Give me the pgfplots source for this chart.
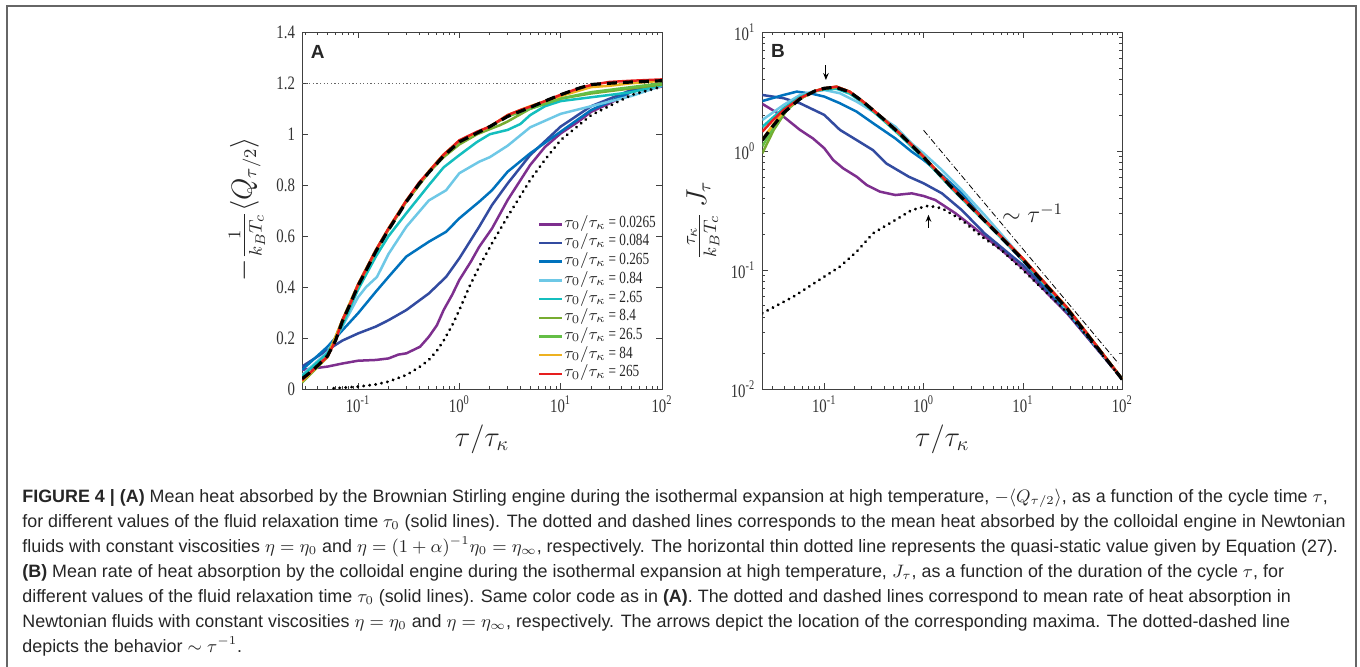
\documentclass[border=0pt]{standalone}
\usepackage{fontspec}
\setmainfont{Liberation Sans}
\newfontfamily\tms[FakeStretch=0.78]{Liberation Serif}
\usepackage{pgfplots}
\pgfplotsset{compat=1.18}
\usetikzlibrary{arrows.meta}

\definecolor{cPur}{RGB}{126,47,142}
\definecolor{cDbl}{RGB}{50,75,160}
\definecolor{cBlu}{RGB}{0,114,189}
\definecolor{cLbl}{RGB}{110,200,230}
\definecolor{cTeal}{RGB}{20,190,190}
\definecolor{cGrn}{RGB}{119,172,48}
\definecolor{cLgr}{RGB}{100,190,70}
\definecolor{cOra}{RGB}{237,177,32}
\definecolor{cRed}{RGB}{230,30,30}

\pgfplotsset{
  mstyle/.style={
    scale only axis, width=180pt, height=178.35pt,
    xmax=100,
    axis line style={black!75, line width=0.45pt},
    every tick/.style={black!75, line width=0.4pt},
    tick align=inside, major tick length=2.8pt, minor tick length=1.5pt,
    xtick pos=both, ytick pos=both,
    xticklabel pos=left, yticklabel pos=left,
    tick label style={font=\tms\fontsize{9.5}{11}\selectfont, text=black!80},
    log number format basis/.code 2 args={##1\textsuperscript{\pgfmathparse{int(##2)}\pgfmathresult}},
    xlabel style={font=\fontsize{14}{16}\selectfont, text=black!85},
    ylabel style={font=\fontsize{13.5}{15}\selectfont, text=black!85},
  },
}
\tikzset{
  dotline/.style={black, line width=1.6pt, line cap=round, dash pattern=on 0.01pt off 3pt},
  dashline/.style={black, line width=1.6pt, dash pattern=on 5pt off 3pt},
  cl/.style={#1, line width=1.25pt},
}
\newcommand{\legtxt}[1]{$\tau_0/\tau_\kappa$\,{\tms\fontsize{8.5}{9}\selectfont = #1}}

\begin{document}
\begin{tikzpicture}
\useasboundingbox (0,0) rectangle (680pt,333pt);
\draw[black!60, line width=1pt] (3.5pt,-1pt) -- (3.5pt,330pt) -- (677.85pt,330pt) -- (677.85pt,-1pt);

% ---------------- panel A ----------------
\begin{axis}[mstyle, xmode=log, at={(151pt,138.5pt)}, anchor=south west,
  xmin=0.028, ymin=0, ymax=1.4,
  ytick={0,0.2,0.4,0.6,0.8,1,1.2,1.4},
  yticklabels={0,0.2,0.4,0.6,0.8,1,1.2,1.4},
  xlabel={$\tau/\tau_\kappa$},
  xlabel style={at={(axis description cs:0.5,-0.14)}, anchor=center},
  ylabel={$-\frac{1}{k_BT_c}\big\langle Q_{\tau/2}\big\rangle$},
  ylabel style={at={(axis description cs:-0.153,0.504)}, anchor=center},
  legend style={draw=none, fill=none, at={(axis description cs:0.655,0.487)}, anchor=north west,
    inner sep=0pt, row sep=0.75pt, font=\fontsize{8}{9}\selectfont, text=black!85,
    nodes={inner sep=0.3pt, text height=5.5pt, text depth=2.5pt}},
  legend cell align=left,
  legend image code/.code={\draw[#1] (0pt,0pt) -- (11.5pt,0pt);},
]
\addplot[forget plot, black!60, line width=0.4pt, dash pattern=on 0.6pt off 1.2pt] coordinates {(0.028,1.2) (100,1.2)};

\addplot[cl=cPur] coordinates {(0.028,0.075) (0.05,0.088) (0.07,0.1) (0.1,0.111) (0.15,0.114) (0.2,0.12) (0.25,0.135) (0.3,0.14) (0.41,0.166) (0.5,0.205) (0.6,0.25) (0.7,0.31) (0.85,0.37) (1,0.428) (1.3,0.5) (1.57,0.558) (2.1,0.63) (3,0.742) (5,0.879) (7,0.95) (10,1.003) (15,1.05) (20,1.088) (30,1.12) (50,1.167) (100,1.187)};
\addlegendentry{\legtxt{0.0265}}
\addplot[cl=cDbl] coordinates {(0.028,0.088) (0.05,0.153) (0.07,0.19) (0.1,0.218) (0.15,0.245) (0.2,0.27) (0.3,0.31) (0.5,0.375) (0.74,0.44) (1,0.513) (1.57,0.637) (2.1,0.722) (3,0.807) (5,0.918) (10,1.03) (20,1.11) (50,1.174) (100,1.19)};
\addlegendentry{\legtxt{0.084}}
\addplot[cl=cBlu] coordinates {(0.028,0.075) (0.05,0.166) (0.07,0.23) (0.1,0.297) (0.15,0.382) (0.2,0.44) (0.3,0.52) (0.5,0.578) (0.74,0.617) (1,0.67) (1.57,0.735) (2.1,0.78) (3,0.853) (5,0.925) (10,1.01) (20,1.095) (50,1.167) (100,1.19)};
\addlegendentry{\legtxt{0.265}}
\addplot[cl=cLbl] coordinates {(0.028,0.055) (0.05,0.145) (0.07,0.245) (0.1,0.36) (0.12,0.4) (0.154,0.44) (0.2,0.53) (0.3,0.637) (0.5,0.74) (0.74,0.78) (1,0.847) (1.57,0.892) (2,0.91) (3,0.955) (5,1.027) (7.7,1.06) (10,1.08) (20,1.11) (50,1.15) (100,1.19)};
\addlegendentry{\legtxt{0.84}}
\addplot[cl=cTeal] coordinates {(0.028,0.05) (0.05,0.14) (0.07,0.25) (0.1,0.39) (0.15,0.52) (0.2,0.6) (0.3,0.69) (0.5,0.8) (0.7,0.87) (1,0.918) (1.5,0.97) (2,1.0) (3,1.017) (4,1.04) (5,1.075) (7,1.11) (10,1.13) (20,1.145) (50,1.165) (100,1.193)};
\addlegendentry{\legtxt{2.65}}
\addplot[cl=cGrn] coordinates {(0.028,0.025) (0.05,0.125) (0.07,0.265) (0.1,0.405) (0.15,0.54) (0.2,0.625) (0.3,0.735) (0.5,0.85) (0.7,0.91) (1,0.96) (1.5,1.0) (2,1.02) (2.5,1.035) (3,1.05) (5,1.1) (10,1.14) (20,1.16) (50,1.18) (100,1.195)};
\addlegendentry{\legtxt{8.4}}
\addplot[cl=cLgr] coordinates {(0.028,0.03) (0.05,0.127) (0.07,0.27) (0.1,0.41) (0.15,0.545) (0.2,0.63) (0.3,0.74) (0.5,0.853) (0.7,0.92) (1,0.97) (2,1.03) (3,1.07) (5,1.1) (10,1.14) (20,1.165) (50,1.185) (100,1.2)};
\addlegendentry{\legtxt{26.5}}
\addplot[cl=cOra] coordinates {(0.028,0.03) (0.05,0.127) (0.07,0.27) (0.1,0.41) (0.15,0.545) (0.2,0.63) (0.3,0.74) (0.5,0.855) (0.7,0.92) (1,0.975) (2,1.03) (3,1.075) (5,1.11) (10,1.15) (20,1.185) (30,1.19) (50,1.2) (100,1.21)};
\addlegendentry{\legtxt{84}}
\addplot[cl=cRed] coordinates {(0.028,0.035) (0.035,0.07) (0.042,0.1) (0.05,0.127) (0.06,0.19) (0.07,0.27) (0.085,0.34) (0.1,0.41) (0.12,0.47) (0.15,0.545) (0.2,0.63) (0.25,0.69) (0.3,0.74) (0.4,0.81) (0.5,0.853) (0.6,0.89) (0.7,0.92) (0.85,0.95) (1,0.976) (1.5,1.01) (2,1.03) (3,1.075) (4,1.095) (5,1.108) (7,1.13) (10,1.155) (15,1.18) (20,1.193) (30,1.205) (50,1.21) (100,1.215)};
\addlegendentry{\legtxt{265}}

\addplot[forget plot, dashline] coordinates {(0.028,0.04) (0.035,0.07) (0.042,0.1) (0.05,0.13) (0.06,0.19) (0.07,0.265) (0.085,0.34) (0.1,0.405) (0.12,0.465) (0.15,0.54) (0.2,0.625) (0.25,0.685) (0.3,0.735) (0.4,0.805) (0.5,0.85) (0.6,0.885) (0.7,0.915) (0.85,0.945) (1,0.97) (1.5,1.005) (2,1.03) (3,1.07) (4,1.09) (5,1.105) (7,1.13) (10,1.155) (15,1.18) (20,1.195) (30,1.2) (50,1.205) (100,1.21)};
\addplot[forget plot, dotline] coordinates {(0.0575,0.003) (0.1,0.009) (0.15,0.018) (0.2,0.029) (0.3,0.055) (0.4,0.085) (0.5,0.114) (0.6,0.15) (0.7,0.19) (0.85,0.25) (1,0.31) (1.25,0.4) (1.57,0.48) (2.1,0.572) (3,0.677) (5,0.82) (7,0.9) (10,0.977) (20,1.075) (50,1.154) (100,1.187)};
\end{axis}

% ---------------- panel B ----------------
\begin{axis}[mstyle, xmode=log, ymode=log, at={(381.15pt,138.5pt)}, anchor=south west,
  xmin=0.0238, ymin=0.01, ymax=10,
  xlabel={$\tau/\tau_\kappa$},
  xlabel style={at={(axis description cs:0.5,-0.14)}, anchor=center},
  ylabel={$\frac{\tau_\kappa}{k_BT_c}\,J_\tau$},
  ylabel style={at={(axis description cs:-0.165,0.473)}, anchor=center},
]
\addplot[cl=cPur] coordinates {(0.0238,2.5) (0.039,1.95) (0.057,1.51) (0.077,1.28) (0.1,1.06) (0.123,0.843) (0.155,0.718) (0.212,0.61) (0.267,0.52) (0.363,0.457) (0.52,0.428) (0.76,0.442) (1,0.42) (1.31,0.389) (2.1,0.3) (3.27,0.225) (6.05,0.148) (10,0.103) (28,0.043) (100,0.0121)};
\addplot[cl=cDbl] coordinates {(0.0238,2.97) (0.039,2.79) (0.057,2.53) (0.1,2.02) (0.144,1.51) (0.212,1.24) (0.31,1.02) (0.42,0.79) (0.71,0.61) (1,0.537) (1.53,0.442) (2.42,0.32) (4.1,0.204) (10,0.11) (28,0.044) (100,0.0121)};
\addplot[cl=cBlu] coordinates {(0.0238,2.64) (0.039,2.97) (0.053,3.17) (0.077,3.03) (0.1,2.88) (0.144,2.53) (0.212,2.15) (0.31,1.72) (0.52,1.28) (0.76,0.99) (1,0.843) (1.53,0.63) (2.42,0.443) (4.1,0.264) (10,0.12) (28,0.045) (100,0.0121)};
\addplot[cl=cLbl] coordinates {(0.0238,1.83) (0.039,2.45) (0.057,2.97) (0.077,3.17) (0.1,3.27) (0.144,3.07) (0.212,2.61) (0.31,2.15) (0.52,1.61) (0.76,1.16) (1,0.96) (1.53,0.695) (2.42,0.472) (4.1,0.291) (10,0.124) (28,0.046) (100,0.0121)};
\addplot[cl=cTeal] coordinates {(0.0238,1.6) (0.039,2.3) (0.057,2.85) (0.08,3.2) (0.1,3.3) (0.133,3.35) (0.18,3.05) (0.247,2.55) (0.39,1.83) (0.6,1.32) (1,0.87) (1.9,0.49) (3.27,0.31) (6.05,0.186) (10,0.122) (28,0.047) (100,0.0121)};
\addplot[cl=cGrn] coordinates {(0.0238,0.96) (0.031,1.51) (0.042,2.22) (0.057,2.75) (0.08,3.2) (0.1,3.36) (0.133,3.47) (0.18,3.16) (0.247,2.6) (0.39,1.88) (0.6,1.36) (1,0.9) (1.9,0.5) (3.27,0.318) (6.05,0.19) (10,0.124) (28,0.048) (100,0.0121)};
\addplot[cl=cLgr] coordinates {(0.0238,1.1) (0.031,1.6) (0.042,2.25) (0.057,2.77) (0.08,3.2) (0.1,3.37) (0.133,3.48) (0.18,3.16) (0.247,2.6) (0.39,1.88) (0.6,1.36) (1,0.9) (1.9,0.5) (3.27,0.318) (6.05,0.19) (10,0.124) (28,0.048) (100,0.0121)};
\addplot[cl=cOra] coordinates {(0.0238,1.25) (0.031,1.7) (0.042,2.3) (0.057,2.78) (0.08,3.2) (0.1,3.37) (0.133,3.48) (0.18,3.17) (0.247,2.6) (0.39,1.89) (0.6,1.37) (1,0.9) (1.9,0.503) (3.27,0.32) (6.05,0.19) (10,0.125) (28,0.048) (100,0.0121)};
\addplot[cl=cRed] coordinates {(0.0238,1.46) (0.03,1.8) (0.039,2.22) (0.057,2.79) (0.08,3.2) (0.1,3.38) (0.133,3.49) (0.18,3.17) (0.247,2.61) (0.39,1.89) (0.6,1.37) (1,0.9) (1.9,0.503) (3.27,0.32) (6.05,0.191) (10,0.125) (28,0.048) (100,0.0121)};
\addplot[dashline] coordinates {(0.0238,1.24) (0.03,1.6) (0.039,2.1) (0.057,2.75) (0.08,3.2) (0.1,3.38) (0.13,3.45) (0.18,3.15) (0.247,2.6) (0.39,1.88) (0.6,1.36) (1,0.89) (1.9,0.5) (3.27,0.315) (6.05,0.188) (10,0.122) (28,0.047) (100,0.012)};
\addplot[dotline] coordinates {(0.0238,0.0434) (0.049,0.0598) (0.1,0.088) (0.144,0.107) (0.212,0.143) (0.31,0.204) (0.52,0.264) (0.76,0.32) (1.12,0.348) (1.53,0.331) (2.42,0.264) (3.85,0.191) (6.05,0.148) (10,0.1) (28,0.044) (100,0.0121)};
\addplot[black, line width=0.4pt, dash pattern=on 3pt off 1.2pt on 0.5pt off 1.2pt] coordinates {(1,1.5) (91,0.0165)};
\draw[-{Stealth[length=3.5pt,width=2.8pt]}, black, line width=0.5pt] (axis cs:0.104,5.3) -- (axis cs:0.104,3.97);
\draw[-{Stealth[length=3.5pt,width=2.8pt]}, black, line width=0.5pt] (axis cs:1.12,0.227) -- (axis cs:1.12,0.292);
\node[font=\fontsize{11.5}{13}\selectfont, text=black!85] at (axis cs:12.5,0.3) {$\sim\tau^{-1}$};
\end{axis}

\node[font=\fontsize{9.5}{11}\selectfont\bfseries, text=black!85] at (158.85pt,307.15pt) {A};
\node[font=\fontsize{9.5}{11}\selectfont\bfseries, text=black!85] at (389pt,307.5pt) {B};

% ---------------- caption ----------------
\begin{scope}[every node/.style={anchor=base west, inner sep=0pt, font=\fontsize{8.95}{10}\selectfont, text=black!85}]
\node at (11pt,82pt) {\textbf{FIGURE 4 | (A)} Mean heat absorbed by the Brownian Stirling engine during the isothermal expansion at high temperature, $-\langle Q_{\tau/2}\rangle$, as a function of the cycle time $\tau$,};
\node at (11pt,69.5pt) {for different values of the fluid relaxation time $\tau_0$ (solid lines). The dotted and dashed lines corresponds to the mean heat absorbed by the colloidal engine in Newtonian};
\node at (11pt,57pt) {fluids with constant viscosities $\eta=\eta_0$ and $\eta=(1+\alpha)^{-1}\eta_0=\eta_\infty$, respectively. The horizontal thin dotted line represents the quasi-static value given by Equation (27).};
\node at (11pt,44.5pt) {\textbf{(B)} Mean rate of heat absorption by the colloidal engine during the isothermal expansion at high temperature, $J_\tau$, as a function of the duration of the cycle $\tau$, for};
\node at (11pt,32pt) {different values of the fluid relaxation time $\tau_0$ (solid lines). Same color code as in \textbf{(A)}. The dotted and dashed lines correspond to mean rate of heat absorption in};
\node at (11pt,19.5pt) {Newtonian fluids with constant viscosities $\eta=\eta_0$ and $\eta=\eta_\infty$, respectively. The arrows depict the location of the corresponding maxima. The dotted-dashed line};
\node at (11pt,7pt) {depicts the behavior $\sim\tau^{-1}$.};
\end{scope}
\end{tikzpicture}
\end{document}
